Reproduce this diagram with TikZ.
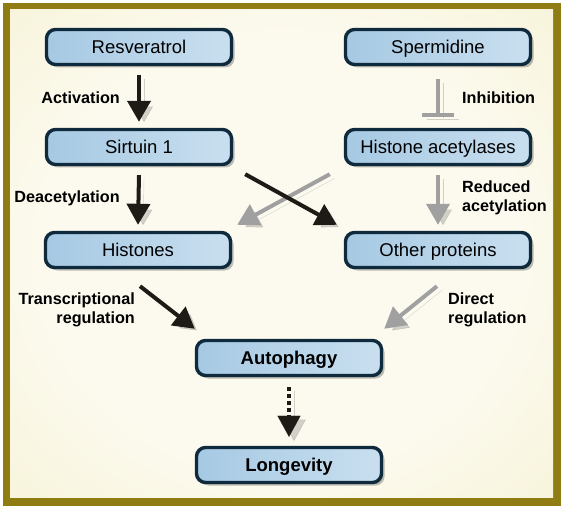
\documentclass[tikz,border=0pt]{standalone}
\usepackage{fontspec}
\setmainfont{Liberation Sans}
\usetikzlibrary{arrows.meta,shadows,calc}
\definecolor{frameol}{HTML}{8F7D14}
\definecolor{creamc}{HTML}{FCFAEE}
\definecolor{creame}{HTML}{F1EBC2}
\definecolor{boxline}{HTML}{0E2A3C}
\definecolor{boxblue}{HTML}{A6C9E3}
\definecolor{boxmid}{HTML}{E4EFF7}
\definecolor{boxright}{HTML}{C9DFEF}
\definecolor{grayarr}{HTML}{A0A0A0}
\definecolor{blackarr}{HTML}{1E1A16}
\pgfdeclareradialshading{bgshade}{\pgfpoint{0bp}{0bp}}{color(0bp)=(creamc); color(22bp)=(creamc); color(55bp)=(creame); color(75bp)=(creame)}
\tikzset{
  box/.style={draw=boxline, line width=3.4pt, rounded corners=9pt,
    minimum width=185pt, minimum height=35pt, inner sep=0pt,
    text height=13.2pt, text depth=0pt,
    left color=boxblue, middle color=boxmid, right color=boxright,
    font=\fontsize{18.5}{21}\selectfont,
    drop shadow={shadow xshift=3pt, shadow yshift=-3pt, fill=black, opacity=0.25}},
  boldbox/.style={box, font=\fontsize{18.5}{21}\selectfont\bfseries},
  lab/.style={font=\fontsize{16.2}{19}\selectfont\bfseries, align=left, inner sep=0pt},
  shad/.style={preaction={draw=black, opacity=0.16, transform canvas={shift={(5pt,-4pt)}}}},
  blk/.style={shad, draw=blackarr, line width=4pt, -{Triangle[length=21pt,width=23pt]}},
  gry/.style={shad, draw=grayarr, line width=4pt, -{Triangle[length=21pt,width=23pt]}},
  inh/.style={shad, draw=grayarr, line width=4pt, -{Bar[width=32pt,line width=4pt]}},
}
\begin{document}
\begin{tikzpicture}[x=1pt,y=-1pt]
\useasboundingbox (0,0) rectangle (565,513);
\fill[white] (0,0) rectangle (565,513);
\fill[frameol] (3,3) rectangle (561,506);
\shade[shading=bgshade] (10,10) rectangle (553,497);
\node[box] (res) at (139,47) {Resveratrol};
\node[box] (sir) at (139,147) {Sirtuin 1};
\node[box] (spe) at (438,47) {Spermidine};
\node[box] (hac) at (438,147) {Histone acetylases};
\node[box] (his) at (138,250) {Histones};
\node[box] (oth) at (438,250) {Other proteins};
\node[boldbox] (aut) at (289,358) {Autophagy};
\node[boldbox] (lon) at (289,465) {Longevity};
% arrows
\draw[blk] ($(res.south)+(0,9)$) -- ($(sir.north)+(0,-6)$);
\draw[blk] ($(sir.south)+(0,9)$) -- ($(his.north)+(0,-6)$);
\draw[inh] ($(spe.south)+(0,13)$) -- ($(hac.north)+(0,-11)$);
\draw[gry] ($(hac.south)+(0,9)$) -- ($(oth.north)+(0,-6)$);
\draw[gry] ($(hac.south west)+(-14,8)$) -- ($(his.north east)+(5,-6)$);
\draw[blk] ($(sir.south east)+(12,8)$) -- ($(oth.north west)+(-7,-6)$);
\draw[blk] ($(his.south)+(2,17)$) -- ($(aut.north west)+(0,-10)$);
\draw[gry] ($(oth.south)+(-1,17)$) -- ($(aut.north east)+(1,-10)$);
\draw[shad, draw=blackarr, line width=4pt, dash pattern=on 4pt off 3pt] ($(aut.south)+(0,10)$) -- ($(lon.north)+(0,-30)$);
\draw[shad, draw=blackarr, line width=0.1pt, -{Triangle[length=21pt,width=23pt]}] ($(lon.north)+(0,-30)$) -- ($(lon.north)+(0,-9)$);
% labels
\node[lab, anchor=east] (l1) at (120,98) {Activation};
\node[lab, anchor=east] (l2) at (120,198) {Deacetylation};
\node[lab, anchor=west] (l3) at (462,98) {Inhibition};
\node[lab, anchor=west] (l4) at (462,198) {Reduced\\acetylation};
\node[lab, anchor=east, align=right] (l5) at (135,310) {Transcriptional\\regulation};
\node[lab, anchor=west] (l6) at (448,310) {Direct\\regulation};
\end{tikzpicture}
\end{document}
